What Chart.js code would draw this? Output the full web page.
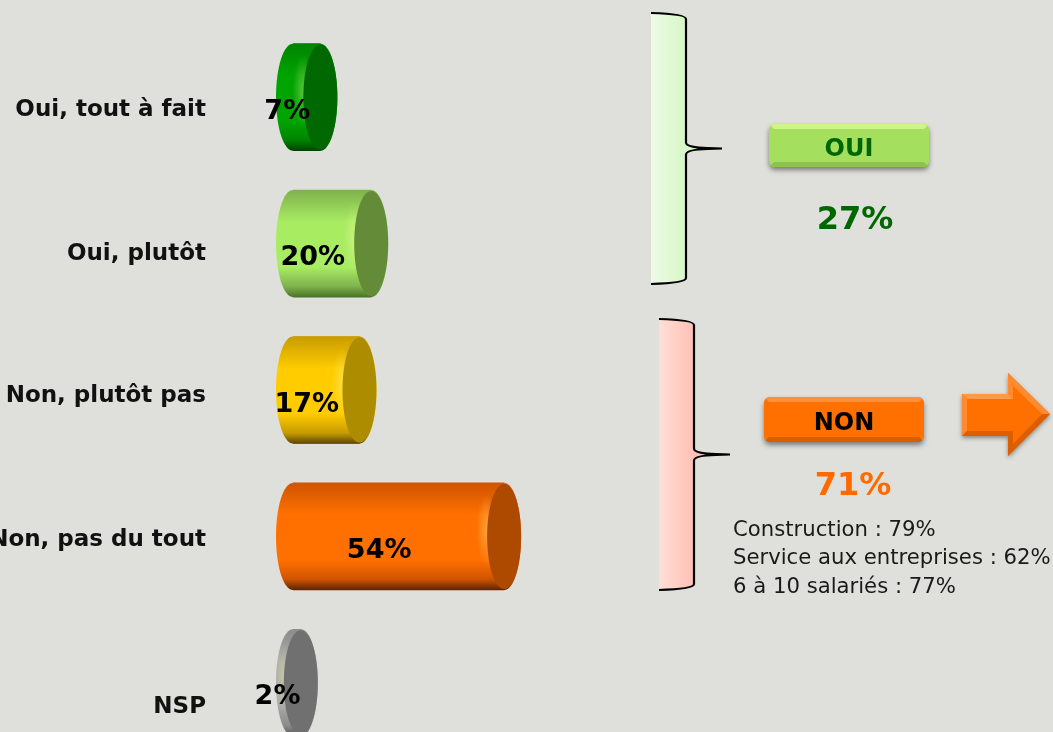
<!DOCTYPE html>
<html lang="fr">
<head>
<meta charset="utf-8">
<title>Oui / Non</title>
<script src="https://cdn.jsdelivr.net/npm/chart.js@4/dist/chart.umd.min.js"></script>
<style>
    html, body { margin: 0; padding: 0; width: 1053px; height: 732px; overflow: hidden; background: #dfe0db; }
    #wrap { position: relative; width: 1053px; height: 760px; }
</style>
</head>
<body>
<div id="wrap"><canvas id="chart"></canvas></div>
<script>
// Data
const categories = ['Oui, tout à fait', 'Oui, plutôt', 'Non, plutôt pas', 'Non, pas du tout', 'NSP'];
const values = [7, 20, 17, 54, 2];
const groupLabels = ['OUI', 'NON'];
const groupValues = [27, 71];
const detailLines = ['Construction : 79%', 'Service aux entreprises : 62%', '6 à 10 salariés : 77%'];

// Bar colours
const barEdge = ['#008400', '#7fb24c', '#c89c00', '#d05400', '#8c8c8c'];
const barMain = ['#00a400', '#a8ec62', '#ffcc00', '#ff7000', '#a8a8a8'];
const barShade = ['#004400', '#4a7428', '#604800', '#5c2400', '#555555'];
const barCap = ['#006800', '#648c38', '#ae8c00', '#ae4a00', '#707070'];

const FONT = '"DejaVu Sans", sans-serif';
const CAP_RX = 17;
const LABEL_RIGHT = 206;
const labelShift = [12.5, 10.5, 6.5, 3.5, 24.5];  // the row labels do not sit on the bar centres

function barGradient(c, top, bottom, i) {
    const g = c.createLinearGradient(0, top, 0, bottom);
    g.addColorStop(0, barEdge[i]);
    g.addColorStop(0.3, barMain[i]);
    g.addColorStop(0.72, barMain[i]);
    g.addColorStop(0.9, barEdge[i]);
    g.addColorStop(1, barShade[i]);
    return g;
}

// Half of an ellipse, dir = 1 bulges right, dir = -1 bulges left
function endCurve(c, x, from, to, dir) {
    const mid = (from + to) / 2;
    const kx = CAP_RX * 0.56 * dir;
    const ky = (to - from) / 2 * 0.56;
    c.bezierCurveTo(x + kx, from, x + CAP_RX * dir, mid - ky, x + CAP_RX * dir, mid);
    c.bezierCurveTo(x + CAP_RX * dir, mid + ky, x + kx, to, x, to);
}

function cylinderPath(c, x0, x1, top, bottom) {
    c.beginPath();
    c.moveTo(x0, top);
    c.lineTo(x1, top);
    endCurve(c, x1, top, bottom, 1);
    c.lineTo(x0, bottom);
    endCurve(c, x0, bottom, top, -1);
    c.closePath();
}

function capPath(c, x, top, bottom) {
    c.beginPath();
    c.moveTo(x, top);
    endCurve(c, x, top, bottom, 1);
    endCurve(c, x, bottom, top, -1);
    c.closePath();
}

function drawBrace(c, left, right, tip, top, bottom, tipY, from, to) {
    const g = c.createLinearGradient(left, 0, right, 0);
    g.addColorStop(0, from);
    g.addColorStop(1, to);
    c.beginPath();
    c.moveTo(left, top);
    c.quadraticCurveTo(right, top + 1, right, top + 6);
    c.lineTo(right, tipY - 6);
    c.quadraticCurveTo(right, tipY - 1, tip - 14, tipY - 0.5);
    c.lineTo(tip, tipY);
    c.lineTo(tip - 14, tipY + 0.5);
    c.quadraticCurveTo(right, tipY + 1, right, tipY + 6);
    c.lineTo(right, bottom - 6);
    c.quadraticCurveTo(right, bottom - 1, left, bottom);
    c.fillStyle = g;
    c.fill();
    c.strokeStyle = '#000';
    c.lineWidth = 2.2;
    c.stroke();
}

function polygon(c, points, color) {
    c.beginPath();
    points.forEach((p, i) => (i ? c.lineTo(p[0], p[1]) : c.moveTo(p[0], p[1])));
    c.closePath();
    c.fillStyle = color;
    c.fill();
}

function drawButton(c, x, y, w, h, main, light, dark, text, textColor) {
    c.save();
    c.shadowColor = 'rgba(0,0,0,0.45)';
    c.shadowBlur = 5;
    c.shadowOffsetY = 3;
    c.beginPath();
    c.roundRect(x, y, w, h, 6);
    c.fillStyle = main;
    c.fill();
    c.restore();

    // bevels
    const b = 5;
    c.save();
    c.beginPath();
    c.roundRect(x, y, w, h, 6);
    c.clip();
    polygon(c, [[x, y], [x + w, y], [x + w - b, y + b], [x + b, y + b]], light);
    polygon(c, [[x, y + h], [x + w, y + h], [x + w - b, y + h - b], [x + b, y + h - b]], dark);
    c.restore();

    c.fillStyle = textColor;
    c.font = 'bold 24px ' + FONT;
    c.textAlign = 'center';
    c.textBaseline = 'middle';
    c.fillText(text, x + w / 2, y + h / 2 + 4);
}

function drawArrow(c) {
    c.save();
    c.shadowColor = 'rgba(0,0,0,0.4)';
    c.shadowBlur = 4;
    c.shadowOffsetY = 2;
    polygon(c, [[962, 394], [1008, 394], [1008, 373], [1050, 414], [1008, 456], [1008, 436], [962, 436]], '#ff7000');
    c.restore();
    // facets
    polygon(c, [[962, 394], [1008, 394], [1013, 399], [967, 399]], '#ff9a4a');
    polygon(c, [[1008, 373], [1050, 414], [1042, 414], [1013, 386]], '#ff8a30');
    polygon(c, [[1008, 373], [1013, 386], [1013, 399], [1008, 394]], '#ff8a30');
    polygon(c, [[962, 394], [967, 399], [967, 431], [962, 436]], '#ff8a30');
    polygon(c, [[1050, 414], [1008, 456], [1008, 436], [962, 436], [967, 431], [1013, 431], [1013, 444], [1042, 414]], '#dc5e00');
}

const cylinderEnds = {
    id: 'cylinderEnds',
    beforeDatasetsDraw(chart) {
        const c = chart.ctx;
        chart.getDatasetMeta(0).data.forEach((bar, i) => {
            const top = bar.y - bar.height / 2;
            const bottom = bar.y + bar.height / 2;
            cylinderPath(c, bar.base, bar.x, top, bottom);
            c.fillStyle = barGradient(c, top, bottom, i);
            c.fill();
        });
    },
    afterDatasetsDraw(chart) {
        const c = chart.ctx;
        chart.getDatasetMeta(0).data.forEach((bar, i) => {
            const top = bar.y - bar.height / 2;
            const bottom = bar.y + bar.height / 2;

            // thin shine along the end of the cylinder
            c.save();
            cylinderPath(c, bar.base, bar.x, top, bottom);
            c.clip();
            c.translate(bar.x - CAP_RX, bar.y - 6);
            c.scale(0.3, 1);
            const shine = c.createRadialGradient(0, 0, 0, 0, 0, 36);
            shine.addColorStop(0, 'rgba(255,255,170,0.35)');
            shine.addColorStop(1, 'rgba(255,255,170,0)');
            c.fillStyle = shine;
            c.fillRect(-36, -36, 72, 72);
            c.restore();

            capPath(c, bar.x, top + 1, bottom - 1);
            c.fillStyle = barCap[i];
            c.fill();

            // value label
            c.fillStyle = '#000';
            c.font = 'bold 27px ' + FONT;
            c.textAlign = 'center';
            c.textBaseline = 'middle';
            c.fillText(values[i] + '%', (bar.base + bar.x) / 2 - 19.4, bar.y + 14.5);
        });

        // row labels
        const yScale = chart.scales.y;
        c.fillStyle = '#111';
        c.font = 'bold 23px ' + FONT;
        c.textAlign = 'right';
        c.textBaseline = 'middle';
        categories.forEach((label, i) => {
            c.fillText(label, LABEL_RIGHT, yScale.getPixelForValue(i) + labelShift[i]);
        });
    }
};

const sidePanel = {
    id: 'sidePanel',
    afterDraw(chart) {
        const c = chart.ctx;
        drawBrace(c, 651, 686, 722, 13, 284, 148.5, '#eefbe6', '#d6f7c6');
        drawBrace(c, 659, 694, 730, 319, 590, 454.5, '#ffdfd8', '#ffc0b4');

        drawButton(c, 769, 124, 160, 43, '#a4e05e', '#cdf58a', '#8cc44e', groupLabels[0], '#006600');
        drawButton(c, 764, 397, 160, 45, '#ff7000', '#ff8f38', '#d85e00', groupLabels[1], '#000');
        drawArrow(c);

        c.textAlign = 'center';
        c.textBaseline = 'middle';
        c.font = 'bold 32px ' + FONT;
        c.fillStyle = '#006600';
        c.fillText(groupValues[0] + '%', 855, 221);
        c.fillStyle = '#ff6a00';
        c.fillText(groupValues[1] + '%', 853, 487);

        c.textAlign = 'left';
        c.font = '21.2px ' + FONT;
        c.fillStyle = '#1a1a1a';
        detailLines.forEach((line, i) => {
            c.fillText(line, 733, 530 + i * 28.7);
        });
    }
};

new Chart(document.getElementById('chart'), {
    type: 'bar',
    data: {
        labels: categories,
        datasets: [{
            data: values,
            barThickness: 107,
            backgroundColor: (ctx) => {
                const area = ctx.chart.chartArea;
                if (!area) return barMain[ctx.dataIndex];
                const mid = ctx.chart.scales.y.getPixelForValue(ctx.dataIndex);
                return barGradient(ctx.chart.ctx, mid - 53.5, mid + 53.5, ctx.dataIndex);
            }
        }]
    },
    options: {
        indexAxis: 'y',
        responsive: true,
        maintainAspectRatio: false,
        animation: false,
        layout: { padding: { left: 293, right: 369, top: 24, bottom: 4 } },
        scales: {
            x: { display: false, min: 0, max: 100 },
            y: { display: false }
        },
        plugins: {
            legend: { display: false },
            tooltip: { enabled: false }
        }
    },
    plugins: [cylinderEnds, sidePanel]
});
</script>
</body>
</html>
